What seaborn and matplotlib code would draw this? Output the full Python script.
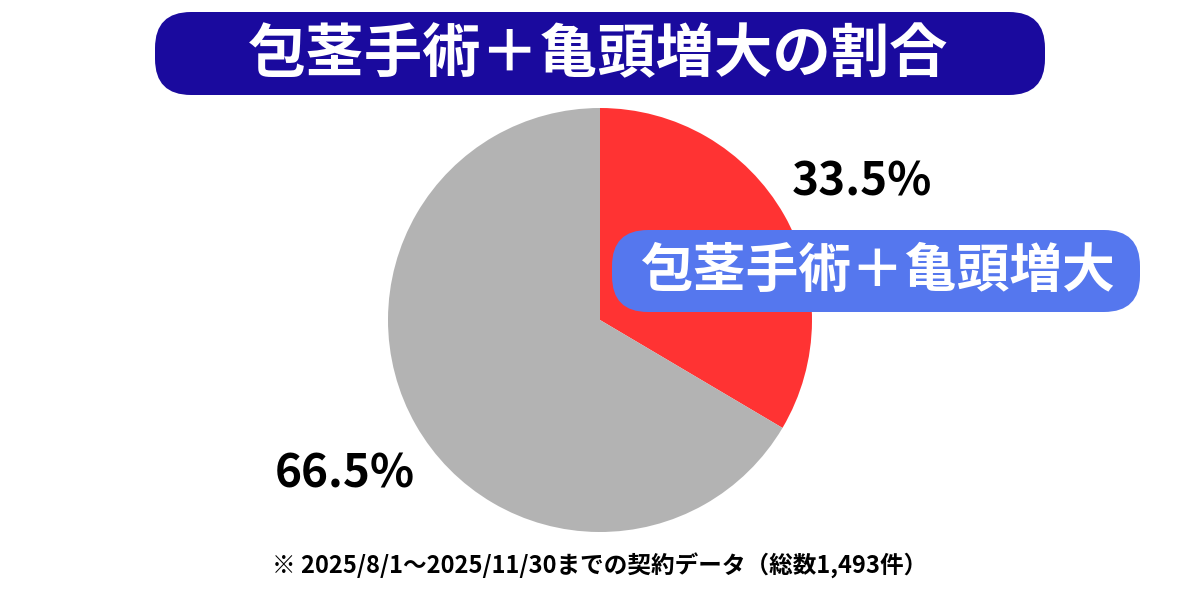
import matplotlib.pyplot as plt
import seaborn as sns
from matplotlib.patches import FancyBboxPatch

sns.set_theme(style="white")
plt.rcParams['font.family'] = ['Noto Sans CJK JP', 'DejaVu Sans']

labels = ['包茎手術＋亀頭増大', 'その他']
shares = [33.5, 66.5]
colors = ['#FF3333', '#B3B3B3']
title = '包茎手術＋亀頭増大の割合'
note = '※ 2025/8/1〜2025/11/30までの契約データ（総数1,493件）'

W, H = 1200, 600
fig = plt.figure(figsize=(12, 6), dpi=100)
fig.patch.set_facecolor('white')

# pie: centre (600, 320), radius 212 px
ax = fig.add_axes([(600 - 212) / W, (H - 320 - 212) / H, 424 / W, 424 / H])
ax.pie(shares, colors=colors, startangle=90, counterclock=False,
       radius=1, wedgeprops=dict(linewidth=0))
ax.set_xlim(-1, 1)
ax.set_ylim(-1, 1)
ax.set_aspect('equal')
ax.axis('off')


def px(x, y):
    return x / W, 1 - y / H


def box(x0, y0, x1, y1, color):
    fig.patches.append(FancyBboxPatch(px(x0, y1), (x1 - x0) / W, (y1 - y0) / H,
                                      boxstyle='round,pad=0,rounding_size=0.03',
                                      transform=fig.transFigure, facecolor=color,
                                      edgecolor='none', mutation_aspect=2,
                                      zorder=5))


box(155, 12, 1045, 95, '#1A0A9E')
fig.text(*px(598, 55), title, color='white', fontsize=42, fontweight='bold',
         ha='center', va='center', zorder=6)

box(612, 230, 1140, 312, '#5577EE')
fig.text(*px(877, 271), labels[0], color='white', fontsize=38, fontweight='bold',
         ha='center', va='center', zorder=6)

fig.text(*px(862, 182), f'{shares[0]}%', fontsize=33, fontweight='bold',
         ha='center', va='center', color='black')
fig.text(*px(345, 474), f'{shares[1]}%', fontsize=33, fontweight='bold',
         ha='center', va='center', color='black')

fig.text(*px(600, 566), note, fontsize=17, fontweight='bold',
         ha='center', va='center', color='black')

fig.savefig('out.png', dpi=100)
plt.close(fig)
